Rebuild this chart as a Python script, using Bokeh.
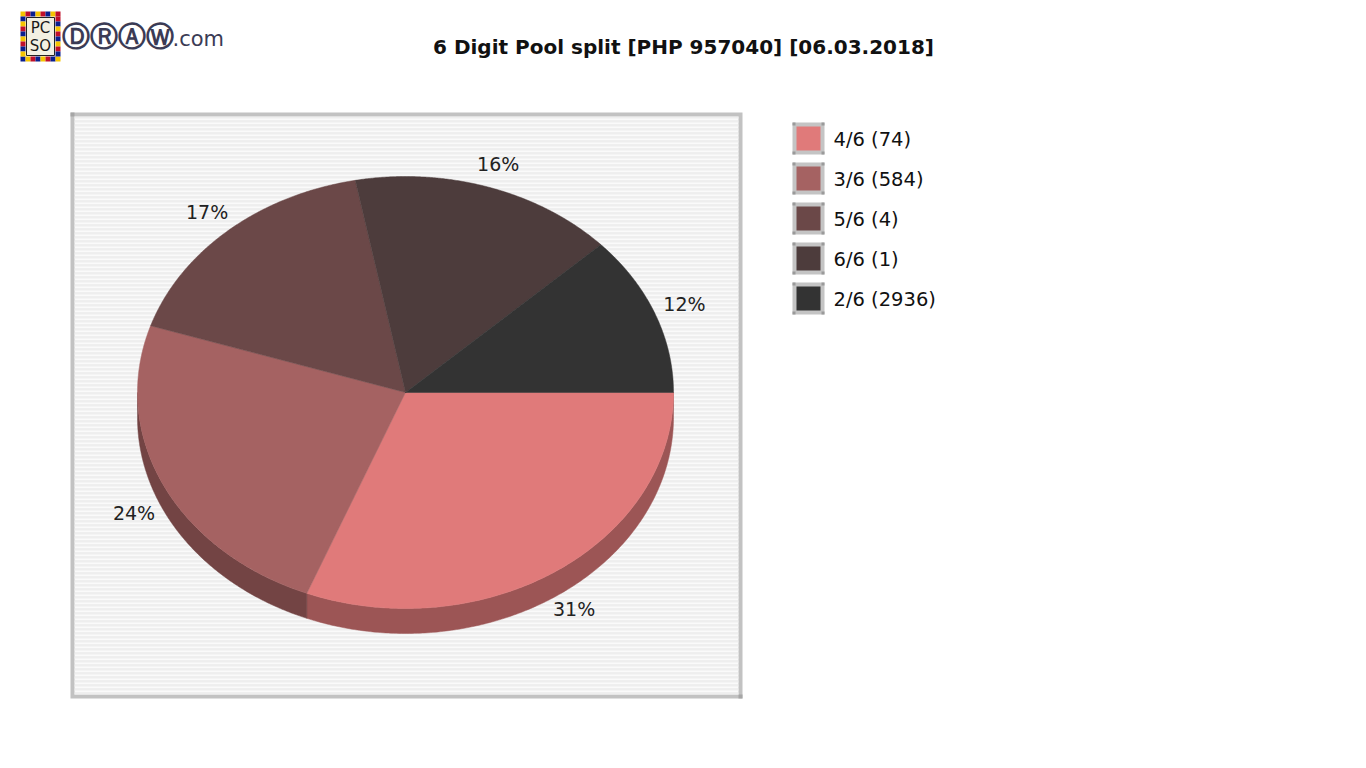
import numpy as np
from bokeh.plotting import figure
from bokeh.models import Range1d
from bokeh.embed import file_html
from bokeh.resources import INLINE
from bokeh.core.properties import value

# ---------------- data ----------------
title = "6 Digit Pool split [PHP 957040] [06.03.2018]"
categories = ["4/6", "3/6", "5/6", "6/6", "2/6"]
winners = [74, 584, 4, 1, 2936]
shares = [31, 24, 17, 16, 12]
colors = ["#E07A7A", "#A56262", "#6B4848", "#4D3C3C", "#333333"]

FONT = value("DejaVu Sans")

W, H = 1350, 752
p = figure(width=W, height=H, x_range=Range1d(0, W), y_range=Range1d(H, 0),
           output_backend="svg", toolbar_location=None, min_border=0,
           x_axis_type=None, y_axis_type=None)
p.grid.visible = False
p.outline_line_color = None
p.background_fill_color = "white"
p.border_fill_color = "white"


def darker(hexc, f=0.7):
    h = hexc.lstrip("#")
    r, g, b = (int(h[i:i + 2], 16) for i in (0, 2, 4))
    return "#%02x%02x%02x" % (int(r * f), int(g * f), int(b * f))


# ---------------- logo ----------------
lx0, ly0, cell = 20, 11, 5
sq_x, sq_y, sq_c = [], [], []
pal = ["#f5c400", "#0a1f8f", "#c0102a"]
k = 0
for i in range(8):
    for (xx, yy) in [(lx0 + i * cell, ly0), (lx0 + i * cell, ly0 + 45)]:
        sq_x.append(xx + cell / 2); sq_y.append(yy + cell / 2); sq_c.append(pal[k % 3]); k += 1
for j in range(1, 9):
    for (xx, yy) in [(lx0, ly0 + j * cell), (lx0 + 35, ly0 + j * cell)]:
        sq_x.append(xx + cell / 2); sq_y.append(yy + cell / 2); sq_c.append(pal[k % 3]); k += 1
p.rect(x=sq_x, y=sq_y, width=cell, height=cell, fill_color=sq_c, line_color=None)
p.quad(left=[26], right=[54], top=[17], bottom=[55], fill_color="#f2f0e2", line_color="#222222", line_width=1)
p.text(x=[40, 40], y=[27, 45], text=["PC", "SO"], text_font=FONT, text_font_size="15px",
       text_align="center", text_baseline="middle", text_color="#1a1a1a")
p.text(x=[61], y=[36], text=["ⒹⓇⒶⓌ"], text_font=FONT, text_font_size="28px",
       text_font_style="bold", text_align="left", text_baseline="middle", text_color="#3b3b55")
p.text(x=[172], y=[38], text=[".com"], text_font=FONT, text_font_size="21px",
       text_align="left", text_baseline="middle", text_color="#3b3b55")

# ---------------- title ----------------
p.text(x=[683], y=[46], text=[title], text_font=FONT, text_font_size="20px",
       text_font_style="bold", text_align="center", text_baseline="middle", text_color="#111111")

# ---------------- plot box ----------------
bx0, by0, bx1, by1, bw = 70, 112, 742, 698, 4
p.quad(left=[bx0], right=[bx1], top=[by0], bottom=[by1], fill_color="#c2c2c2", line_color=None)
p.quad(left=[bx0, bx1 - bw], right=[bx0 + bw, bx1], top=[by0, by1 - bw], bottom=[by0 + bw, by1],
       fill_color="#a6a6a6", line_color=None)
p.quad(left=[bx0 + bw], right=[bx1 - bw], top=[by0 + bw], bottom=[by1 - bw],
       fill_color="#fafafa", line_color=None)
rows = np.arange(by0 + bw, by1 - bw, 4)
p.quad(left=bx0 + bw, right=bx1 - bw, top=rows, bottom=rows + 1, fill_color="#e3e3e3", line_color=None)
p.quad(left=bx0 + bw, right=bx1 - bw, top=rows + 1, bottom=rows + 2, fill_color="#eeeeee", line_color=None)

# ---------------- 3D pie ----------------
cx, cy, rx, ry, depth = 405, 392, 268, 216, 25
total = float(sum(shares))
bounds = np.concatenate([[0], np.cumsum(shares)]) / total * 2 * np.pi

side_xs, side_ys, side_cols = [], [], []
top_xs, top_ys = [], []
for i in range(len(shares)):
    a, b = bounds[i], bounds[i + 1]
    t = np.linspace(a, b, 200)
    top_xs.append(list(np.concatenate([[cx], cx + rx * np.cos(t)])))
    top_ys.append(list(np.concatenate([[cy], cy + ry * np.sin(t)])))
    lo, hi = max(a, 0), min(b, np.pi)
    if hi > lo:
        s = np.linspace(lo, hi, 200)
        sx = cx + rx * np.cos(s)
        sy = cy + ry * np.sin(s)
        side_xs.append(list(np.concatenate([sx, sx[::-1]])))
        side_ys.append(list(np.concatenate([sy, sy[::-1] + depth])))
        side_cols.append(darker(colors[i]))

p.patches(xs=side_xs, ys=side_ys, fill_color=side_cols, line_color=side_cols, line_width=0.5)
p.patches(xs=top_xs, ys=top_ys, fill_color=colors, line_color=colors, line_width=0.5)

# labels
mids = (bounds[:-1] + bounds[1:]) / 2
lab_x = cx + 300 * np.cos(mids)
lab_y = cy + 240 * np.sin(mids) + np.where(np.sin(mids) > 0, 18, 0)
p.text(x=list(lab_x), y=list(lab_y), text=["%d%%" % s for s in shares], text_font=FONT,
       text_font_size="19px", text_align="center", text_baseline="middle", text_color="#222222")

# ---------------- legend ----------------
lg_x, lg_y, lg_step, sw = 792, 122, 40, 32
ly = [lg_y + i * lg_step for i in range(len(categories))]
p.quad(left=lg_x, right=lg_x + sw, top=ly, bottom=[v + sw for v in ly], fill_color="#c4c4c4", line_color=None)
cor_l, cor_t = [], []
for v in ly:
    for (dx, dy) in [(0, 0), (sw - 3, 0), (0, sw - 3), (sw - 3, sw - 3)]:
        cor_l.append(lg_x + dx); cor_t.append(v + dy)
p.quad(left=cor_l, right=[c + 3 for c in cor_l], top=cor_t, bottom=[c + 3 for c in cor_t],
       fill_color="#9a9a9a", line_color=None)
p.quad(left=lg_x + 4, right=lg_x + sw - 4, top=[v + 4 for v in ly], bottom=[v + sw - 4 for v in ly],
       fill_color=colors, line_color=None)
p.text(x=lg_x + 41, y=[v + sw / 2 + 1 for v in ly],
       text=["%s (%d)" % (c, w) for c, w in zip(categories, winners)], text_font=FONT,
       text_font_size="19.5px", text_align="left", text_baseline="middle", text_color="#111111")

open("out.html", "w").write(file_html(p, INLINE))
